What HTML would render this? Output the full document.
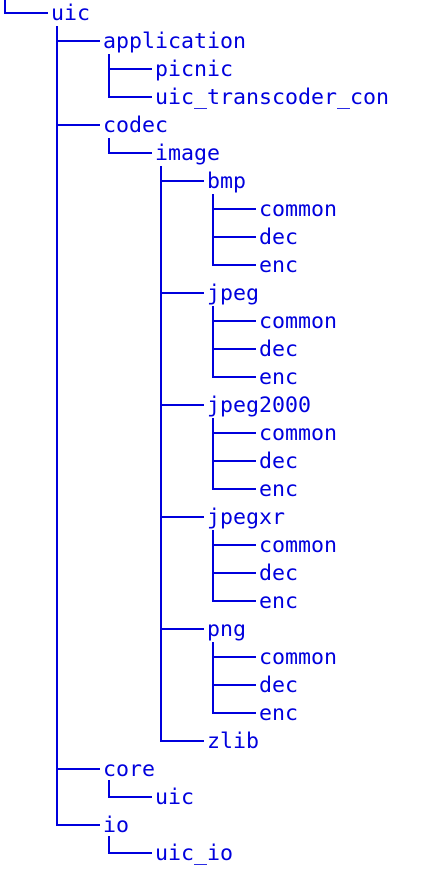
<!DOCTYPE html>
<html><head><meta charset="utf-8"><style>
html,body{margin:0;padding:0;background:#fff;width:425px;height:875px;overflow:hidden}
svg text{font-family:"DejaVu Sans Mono","Liberation Mono",monospace;font-size:21.6px;fill:#0000dd}
svg line{stroke:#0000dd;stroke-width:2}
</style></head><body>
<svg width="425" height="875" xmlns="http://www.w3.org/2000/svg">
<line x1="5" y1="0" x2="5" y2="14"/>
<line x1="57" y1="26" x2="57" y2="826"/>
<line x1="109" y1="54" x2="109" y2="98"/>
<line x1="109" y1="138" x2="109" y2="154"/>
<line x1="109" y1="780" x2="109" y2="798"/>
<line x1="109" y1="836" x2="109" y2="854"/>
<line x1="161" y1="166" x2="161" y2="742"/>
<line x1="213" y1="194" x2="213" y2="266"/>
<line x1="213" y1="306" x2="213" y2="378"/>
<line x1="213" y1="418" x2="213" y2="490"/>
<line x1="213" y1="530" x2="213" y2="602"/>
<line x1="213" y1="642" x2="213" y2="714"/>

<line x1="4" y1="13" x2="48" y2="13"/><text x="51" y="20">uic</text>
<line x1="56" y1="41" x2="100" y2="41"/><text x="103" y="48">application</text>
<line x1="108" y1="69" x2="152" y2="69"/><text x="155" y="76">picnic</text>
<line x1="108" y1="97" x2="152" y2="97"/><text x="155" y="104">uic_transcoder_con</text>
<line x1="56" y1="125" x2="100" y2="125"/><text x="103" y="132">codec</text>
<line x1="108" y1="153" x2="152" y2="153"/><text x="155" y="160">image</text>
<line x1="160" y1="181" x2="204" y2="181"/><text x="207" y="188">bmp</text>
<line x1="212" y1="209" x2="256" y2="209"/><text x="259" y="216">common</text>
<line x1="212" y1="237" x2="256" y2="237"/><text x="259" y="244">dec</text>
<line x1="212" y1="265" x2="256" y2="265"/><text x="259" y="272">enc</text>
<line x1="160" y1="293" x2="204" y2="293"/><text x="207" y="300">jpeg</text>
<line x1="212" y1="321" x2="256" y2="321"/><text x="259" y="328">common</text>
<line x1="212" y1="349" x2="256" y2="349"/><text x="259" y="356">dec</text>
<line x1="212" y1="377" x2="256" y2="377"/><text x="259" y="384">enc</text>
<line x1="160" y1="405" x2="204" y2="405"/><text x="207" y="412">jpeg2000</text>
<line x1="212" y1="433" x2="256" y2="433"/><text x="259" y="440">common</text>
<line x1="212" y1="461" x2="256" y2="461"/><text x="259" y="468">dec</text>
<line x1="212" y1="489" x2="256" y2="489"/><text x="259" y="496">enc</text>
<line x1="160" y1="517" x2="204" y2="517"/><text x="207" y="524">jpegxr</text>
<line x1="212" y1="545" x2="256" y2="545"/><text x="259" y="552">common</text>
<line x1="212" y1="573" x2="256" y2="573"/><text x="259" y="580">dec</text>
<line x1="212" y1="601" x2="256" y2="601"/><text x="259" y="608">enc</text>
<line x1="160" y1="629" x2="204" y2="629"/><text x="207" y="636">png</text>
<line x1="212" y1="657" x2="256" y2="657"/><text x="259" y="664">common</text>
<line x1="212" y1="685" x2="256" y2="685"/><text x="259" y="692">dec</text>
<line x1="212" y1="713" x2="256" y2="713"/><text x="259" y="720">enc</text>
<line x1="160" y1="741" x2="204" y2="741"/><text x="207" y="748">zlib</text>
<line x1="56" y1="769" x2="100" y2="769"/><text x="103" y="776">core</text>
<line x1="108" y1="797" x2="152" y2="797"/><text x="155" y="804">uic</text>
<line x1="56" y1="825" x2="100" y2="825"/><text x="103" y="832">io</text>
<line x1="108" y1="853" x2="152" y2="853"/><text x="155" y="860">uic_io</text>
</svg>
</body></html>
